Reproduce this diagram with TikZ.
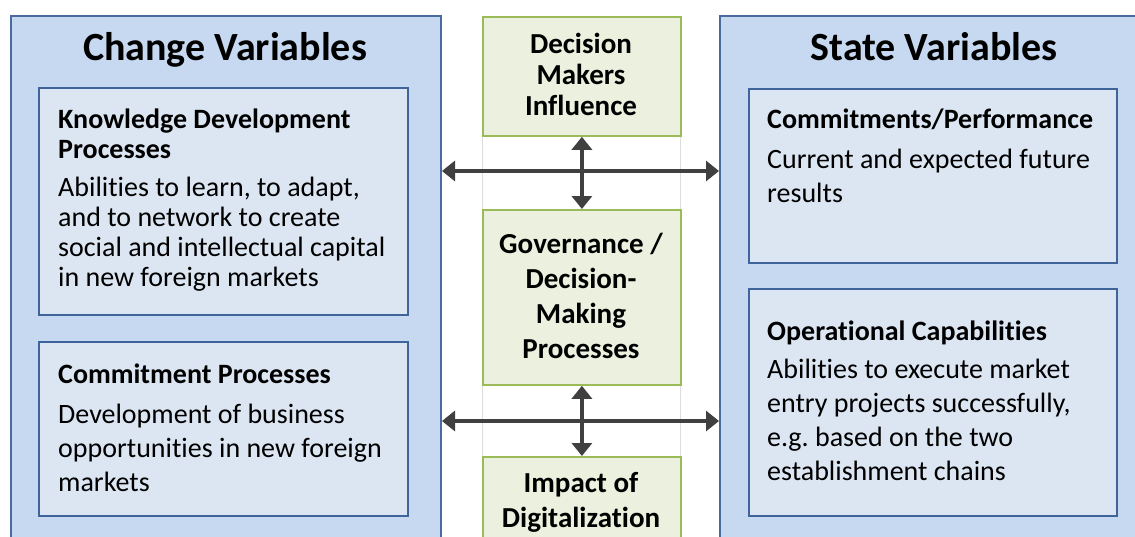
\documentclass[tikz,border=0pt]{standalone}
\usepackage{fontspec}
\setmainfont{Carlito}[Ligatures=NoCommon]
\usetikzlibrary{arrows.meta}

\definecolor{panelfill}{HTML}{C6D9F1}
\definecolor{paneldraw}{HTML}{4A6B9D}
\definecolor{cardfill}{HTML}{DCE6F2}
\definecolor{carddraw}{HTML}{3F639B}
\definecolor{greenfill}{HTML}{EBF1DE}
\definecolor{greendraw}{HTML}{9BBB59}
\definecolor{linkcol}{HTML}{404040}
\definecolor{bandline}{HTML}{DDDDDD}

% stacked lines whose reference point is the first baseline
\newcommand{\blockL}[1]{\begin{tabular}[t]{@{}l@{}}#1\end{tabular}}
\newcommand{\blockC}[1]{\begin{tabular}[t]{@{}c@{}}#1\end{tabular}}

\tikzset{
  panel/.style={draw=paneldraw, fill=panelfill, line width=2pt, anchor=north west, inner sep=0, rectangle},
  card/.style={draw=carddraw, fill=cardfill, line width=1.6pt, anchor=north west, inner sep=0, rectangle},
  factor/.style={draw=greendraw, fill=greenfill, line width=1.8pt, anchor=north west, inner sep=0, rectangle},
  band/.style={draw=bandline, fill=white, line width=0.8pt, anchor=north west, inner sep=0, rectangle},
  paneltitle/.style={font=\fontsize{40}{48}\selectfont\bfseries, anchor=base, inner sep=0},
  cardhead/.style={font=\fontsize{28}{34}\selectfont\bfseries, anchor=base west, inner sep=0},
  cardbody/.style={font=\fontsize{28}{34}\selectfont, anchor=base west, inner sep=0},
  factortext/.style={font=\fontsize{29}{35}\selectfont\bfseries, anchor=base, inner sep=0},
  biarrow/.style={draw=linkcol, line width=4pt,
    {Triangle[length=13pt,width=20pt]}-{Triangle[length=13pt,width=20pt]}}
}

\begin{document}
\begin{tikzpicture}[x=1pt,y=-1pt]
\useasboundingbox (0,0) rectangle (1135,536);
\clip (0,0) rectangle (1135,536);

% outer panels
\node[panel, minimum width=430pt, minimum height=545pt] (cv) at (10,15) {};
\node[panel, minimum width=430pt, minimum height=545pt] (sv) at (719,15) {};

% central column
\node[band, minimum width=198pt, minimum height=545pt] (col) at (482,16) {};

% cards on the left
\node[card, minimum width=369pt, minimum height=227pt] (kd) at (38,87) {};
\node[card, minimum width=369pt, minimum height=174pt] (cp) at (38,341) {};
% cards on the right
\node[card, minimum width=368pt, minimum height=174pt] (perf) at (748,88) {};
\node[card, minimum width=368pt, minimum height=227pt] (opc) at (748,288) {};

% green factor boxes
\node[factor, minimum width=198pt, minimum height=119pt] (dm) at (482,16) {};
\node[factor, minimum width=198pt, minimum height=175pt] (gov) at (482,209) {};
\node[factor, minimum width=198pt, minimum height=110pt] (dig) at (482,456) {};

% panel titles
\node[paneltitle] (cvt) at (225,60) {Change Variables};
\node[paneltitle] (svt) at (934,60) {State Variables};

% card texts
\node[cardhead, font=\fontsize{28}{30}\selectfont\bfseries] (kdh) at (58,128)
  {\blockL{Knowledge Development\\Processes}};
\node[cardbody, font=\fontsize{28}{30}\selectfont] (kdb) at (58,196)
  {\blockL{Abilities to learn, to adapt,\\and to network to create\\social and intellectual capital\\in new foreign markets}};

\node[cardhead] (cph) at (58,383) {Commitment Processes};
\node[cardbody] (cpb) at (58,423)
  {\blockL{Development of business\\opportunities in new foreign\\markets}};

\node[cardhead] (perfh) at (767,128) {Commitments/Performance};
\node[cardbody] (perfb) at (767,168) {\blockL{Current and expected future\\results}};

\node[cardhead] (opch) at (767,340) {Operational Capabilities};
\node[cardbody] (opcb) at (767,378)
  {\blockL{Abilities to execute market\\entry projects successfully,\\e.g.\ based on the two\\establishment chains}};

% factor texts
\node[factortext, font=\fontsize{29}{31}\selectfont\bfseries] (dmt) at (581,53)
  {\blockC{Decision\\Makers\\Influence}};
\node[factortext] (govt) at (581,253) {\blockC{Governance /\\Decision-\\Making\\Processes}};
\node[factortext] (digt) at (581,492) {\blockC{Impact of\\Digitalization}};

% links
\coordinate (rowA) at (581,171);
\coordinate (rowB) at (581,421);
\draw[biarrow] (cv.east |- rowA) -- (sv.west |- rowA);
\draw[biarrow] (cv.east |- rowB) -- (sv.west |- rowB);
\draw[biarrow] (dm.south) -- (gov.north);
\draw[biarrow] (gov.south) -- (dig.north);
\end{tikzpicture}
\end{document}
